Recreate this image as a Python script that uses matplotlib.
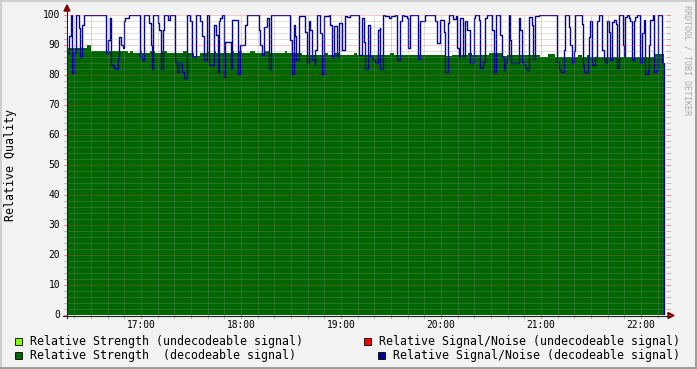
import matplotlib
matplotlib.use('Agg')
import matplotlib.pyplot as plt
from matplotlib.patches import Rectangle, Polygon
from matplotlib.lines import Line2D

# ---------------- data (time = minutes after 16:00) ----------------
x_start, x_end = 15.6, 375.6
hour_minutes = [60, 120, 180, 240, 300, 360]
hour_labels = ["17:00", "18:00", "19:00", "20:00", "21:00", "22:00"]
y_ticks = [0, 10, 20, 30, 40, 50, 60, 70, 80, 90, 100]

strength_t = [15.6, 27.6, 30.0, 52.2, 53.4, 55.2, 59.4, 60.3, 65.4, 68.4, 72.6, 75.6,
              85.2, 87.6, 91.8, 95.4, 99.6, 100.8, 104.4, 105.0, 114.6, 115.8, 118.2,
              120.6, 125.4, 128.4, 133.8, 136.8, 146.4, 147.6, 156.6, 169.8, 172.2,
              176.4, 178.8, 187.8, 189.6, 209.4, 211.8, 242.4, 246.6, 256.2, 258.6,
              268.8, 276.6, 279.6, 299.4, 304.2, 308.4, 322.2, 324.6, 327.6, 329.4,
              368.4, 373.5]
strength_v = [89, 90, 88, 87.5, 88, 87.3, 88, 87.3, 88, 87.3, 88, 87.3,
              88, 87.3, 86.5, 87.3, 88, 87.3, 88, 87.3, 88, 87.3, 88,
              87.3, 88, 87.3, 88, 87.3, 88, 87.3, 86.7, 87.5, 86.7,
              87.5, 86.7, 87.5, 86.7, 87.5, 86.7, 86.2, 86.7, 87.5, 86.7,
              87.5, 86.2, 86.7, 86.1, 87, 86.1, 86.8, 86.1, 86.8, 86.1,
              87, 87]

snr_t = [15.6, 16.8, 17.8, 18.8, 20.0, 20.8, 23.0, 23.6, 24.8, 25.8, 38.8, 40.0,
         41.2, 42.0, 43.8, 45.0, 46.2, 46.8, 48.2, 49.4, 50.0, 50.6, 52.6, 59.2,
         60.6, 62.0, 65.0, 65.8, 66.4, 67.2, 70.2, 71.0, 71.8, 73.0, 73.6, 76.2,
         77.4, 80.2, 81.6, 83.0, 84.4, 85.6, 87.6, 89.6, 90.6, 93.2, 95.6, 96.6,
         97.8, 99.8, 101.0, 104.0, 105.2, 106.0, 107.0, 107.6, 108.6, 110.0, 110.6,
         113.8, 114.6, 118.2, 119.4, 122.4, 123.8, 130.6, 131.6, 132.6, 134.0,
         135.6, 137.0, 138.0, 149.6, 150.6, 152.0, 152.6, 153.2, 155.0, 156.6,
         158.6, 159.6, 160.6, 161.6, 162.6, 164.2, 164.6, 165.6, 167.6, 168.6,
         170.0, 172.6, 173.6, 174.6, 176.0, 177.6, 179.0, 180.6, 182.2, 183.6,
         185.6, 191.0, 192.6, 194.0, 194.6, 196.0, 197.2, 199.2, 200.6, 202.0,
         203.2, 203.6, 205.0, 206.6, 209.0, 210.2, 212.2, 213.6, 215.2, 216.6,
         217.8, 219.6, 220.2, 221.6, 226.2, 227.6, 230.2, 236.6, 237.6, 239.6,
         241.6, 242.6, 244.0, 245.0, 247.0, 249.2, 249.6, 250.6, 251.6, 253.0,
         254.2, 255.4, 257.6, 260.0, 260.6, 262.6, 263.6, 265.0, 266.2, 267.6,
         270.6, 271.6, 273.0, 275.6, 276.6, 277.6, 278.6, 279.6, 280.5, 281.1,
         282.0, 283.6, 287.0, 287.6, 288.6, 289.6, 290.6, 291.6, 293.0, 294.6,
         295.2, 296.6, 298.6, 309.6, 310.6, 312.2, 313.6, 314.0, 314.6, 317.0,
         317.6, 318.6, 320.0, 320.6, 324.6, 325.0, 326.0, 328.0, 328.6, 329.6,
         330.6, 332.6, 333.6, 334.6, 336.6, 337.6, 338.2, 339.6, 340.6, 341.6,
         342.6, 343.6, 345.0, 345.6, 347.0, 349.0, 349.8, 350.6, 351.6, 352.6,
         353.4, 354.6, 355.6, 356.6, 357.6, 359.6, 360.6, 361.6, 362.6, 364.0,
         364.6, 365.6, 367.0, 367.6, 369.0, 370.0, 372.6, 373.5]
snr_v = [87.4, 93, 100, 80.8, 87.8, 100, 95.6, 86.1, 96.7, 100, 87.4, 91.7,
         99, 83.3, 82.5, 81.9, 86.1, 92.8, 90, 89, 97.9, 99, 100, 86.1,
         85, 100, 97.3, 90, 81.9, 100, 97.3, 95, 81.9, 95, 100, 98.2,
         100, 84.4, 81.1, 83.9, 81.1, 79.1, 100, 97.9, 86.1, 100, 97.9, 93,
         85, 100, 83.3, 96.7, 93.3, 81.1, 97.9, 99, 100, 79.4, 91,
         81.9, 98.5, 80.5, 90, 96.7, 100, 95, 90, 86.7, 96,
         99, 81.9, 100, 91.7, 80.2, 96.7, 93, 85, 99.6, 99.7,
         94.2, 83.9, 97.9, 95, 85, 83.3, 88.3, 100, 94, 80.2,
         99.6, 100, 96.7, 86.1, 96.4, 86.1, 97.3, 88.3, 99.6, 99.4,
         100, 86.7, 99.1, 91.1, 81.9, 96.7, 86.1, 85, 83.9, 95,
         95.7, 81.9, 100, 99.7, 99, 99.7, 100, 85, 97.9, 100,
         99.6, 99, 88.9, 100, 85.2, 97.9, 100, 97.9, 90.6, 98.2,
         94.3, 81.1, 97.3, 100, 98.8, 99.7, 88.9, 86.1, 99, 86.1,
         97.9, 95, 83.9, 99, 100, 98.2, 82.4, 84.4, 99, 100,
         95, 81.1, 100, 93.3, 86.1, 81.6, 84, 86.1, 100, 91.7,
         84, 83.9, 99, 95, 84.4, 83.3, 82.4, 81.6, 99.4, 96.7,
         85.2, 99.6, 100, 84.4, 81.9, 81.1, 82.4, 88.3, 100, 96.1,
         90, 84, 88, 100, 97, 83.3, 81.1, 86.1, 92.8, 97.9,
         83.3, 86, 97.9, 100, 88.3, 85.2, 84, 97.9, 94.4, 85,
         97.6, 98.2, 97, 82.4, 100, 90, 86, 99.4, 100, 99,
         97.9, 85, 97.9, 99.4, 100, 84, 94, 98.2, 80.2, 81.6,
         90, 98.2, 100, 81.1, 81.6, 100, 84, 0]

legend_left = ["Relative Strength (undecodeable signal)",
               "Relative Strength  (decodeable signal)"]
legend_right = ["Relative Signal/Noise (undecodeable signal)",
                "Relative Signal/Noise (decodeable signal)"]
colors_left = ["#80FF00", "#006600"]
colors_right = ["#FF0000", "#000099"]

# ---------------- figure ----------------
W, H = 697, 369
fig = plt.figure(figsize=(W / 100, H / 100), dpi=100, facecolor="#F2F2F2")
MONO = "DejaVu Sans Mono"


def fx(x):
    return x / W


def fy(y):
    return 1 - y / H


ax = fig.add_axes([fx(67), fy(315), 600 / W, 300 / H])
ax.set_facecolor("white")
ax.set_xlim(x_start, x_end)
ax.set_ylim(0, 100)
for s in ax.spines.values():
    s.set_visible(False)
ax.set_xticks([])
ax.set_yticks([])

# data
ax.fill_between(strength_t, 0, strength_v, step="post", color="#006600",
                linewidth=0, zorder=2)
ax.step(snr_t, snr_v, where="post", color="#000099", lw=1.0, zorder=3)

# grid (drawn over data, rrdtool style)
grid_c = (0.56, 0.56, 0.56, 0.55)
mgrid_c = (0.87, 0.31, 0.31, 0.6)
dots = (0, (1, 1))
GLW = 0.72
for v in range(0, 101, 2):
    if v % 10 == 0:
        continue
    ax.plot([x_start, x_end], [v, v], color=grid_c, lw=GLW, ls=dots, zorder=4)
for v in y_ticks[1:]:
    ax.plot([x_start, x_end], [v, v], color=mgrid_c, lw=GLW, ls=dots, zorder=5)
m = 20
while m < x_end:
    if m % 30 != 0:
        ax.plot([m, m], [0, 100], color=grid_c, lw=GLW, ls=dots, zorder=4)
    m += 10
m = 30
while m < x_end:
    ax.plot([m, m], [0, 100], color=mgrid_c, lw=GLW, ls=dots, zorder=5)
    m += 30

# tick stubs outside plot
for v in range(0, 101, 2):
    c = mgrid_c if v % 10 == 0 else grid_c
    yy = fy(315 - 3 * v)
    fig.add_artist(Line2D([fx(64), fx(67)], [yy, yy], color=c, lw=GLW))
    fig.add_artist(Line2D([fx(667), fx(670)], [yy, yy], color=c, lw=GLW))
m = 20
while m < x_end:
    c = mgrid_c if m % 30 == 0 else grid_c
    xp = fx(67 + (m - x_start) / 0.6)
    fig.add_artist(Line2D([xp, xp], [fy(315), fy(318)], color=c, lw=GLW))
    m += 10

# axes lines + arrows
axis_c = "#212121"
fig.add_artist(Line2D([fx(63), fx(669)], [fy(315.5), fy(315.5)], color=axis_c, lw=0.8))
fig.add_artist(Line2D([fx(67), fx(67)], [fy(318), fy(10)], color=axis_c, lw=0.8))
fig.add_artist(Polygon([[fx(64), fy(11)], [fx(70), fy(11)], [fx(67), fy(5)]],
                       closed=True, color="#800000", transform=fig.transFigure))
fig.add_artist(Polygon([[fx(668), fy(312.5)], [fx(668), fy(318.5)], [fx(674), fy(315.5)]],
                       closed=True, color="#800000", transform=fig.transFigure))

# tick labels
for v in y_ticks:
    fig.text(fx(60), fy(315 - 3 * v), str(v), ha="right", va="center",
             family=MONO, fontsize=6.9)
for mm, lab in zip(hour_minutes, hour_labels):
    fig.text(fx(67 + (mm - x_start) / 0.6), fy(324.5), lab, ha="center", va="center",
             family=MONO, fontsize=6.9)

fig.text(fx(11), fy(165), "Relative Quality", rotation=90, ha="center", va="center",
         family=MONO, fontsize=8.4)
fig.text(fx(687), fy(5), "RRDTOOL / TOBI OETIKER", rotation=270, ha="center", va="top",
         family=MONO, fontsize=6, color="#AAAAAA")

# legend
rows_y = [341.5, 355.2]
fig.canvas.draw()
renderer = fig.canvas.get_renderer()
for i in range(2):
    yc = rows_y[i]
    fig.add_artist(Rectangle((fx(15), fy(yc + 3.5)), 7 / W, 7 / H, facecolor=colors_left[i],
                             edgecolor="black", lw=0.6, transform=fig.transFigure))
    fig.text(fx(30), fy(yc), legend_left[i], ha="left", va="center", family=MONO,
             fontsize=8.4)
    t = fig.text(fx(680), fy(yc), legend_right[i], ha="right", va="center", family=MONO,
                 fontsize=8.4)
    bb = t.get_window_extent(renderer)
    bx = bb.x0 - 15
    fig.add_artist(Rectangle((fx(bx), fy(yc + 3.5)), 7 / W, 7 / H, facecolor=colors_right[i],
                             edgecolor="black", lw=0.6, transform=fig.transFigure))

# 3D frame shading
fig.add_artist(Line2D([0, 1], [fy(0.5), fy(0.5)], color="#CFCFCF", lw=1.4))
fig.add_artist(Line2D([fx(0.5), fx(0.5)], [0, 1], color="#CFCFCF", lw=1.4))
fig.add_artist(Line2D([0, 1], [fy(368.3), fy(368.3)], color="#9E9E9E", lw=1.4))
fig.add_artist(Line2D([fx(696.3), fx(696.3)], [0, 1], color="#9E9E9E", lw=1.4))

fig.savefig("out.png", dpi=100, facecolor=fig.get_facecolor())
